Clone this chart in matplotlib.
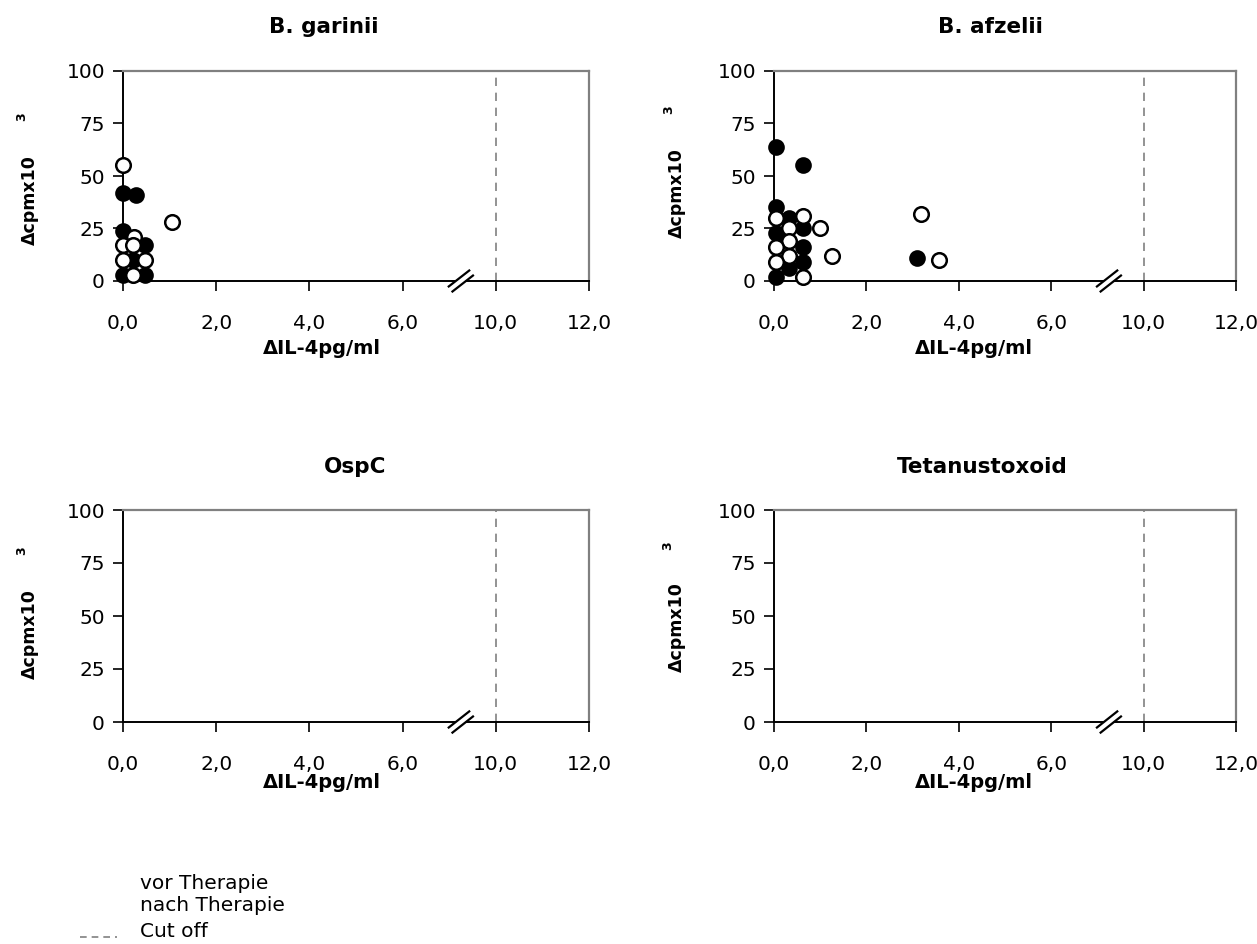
import matplotlib
matplotlib.use("Agg")
import matplotlib.pyplot as plt
from matplotlib.lines import Line2D

plt.rcParams['font.family'] = ['DejaVu Sans']

# ---------------- data ----------------
panel_titles = ["B. garinii", "B. afzelii", "OspC", "Tetanustoxoid"]
x_tick_values = [0, 2, 4, 6, 10, 12]
x_tick_labels = ["0,0", "2,0", "4,0", "6,0", "10,0", "12,0"]
y_ticks = [0, 25, 50, 75, 100]
cutoff = 10.0

# B. garinii
garinii_vor_x = [0.0, 0.27, 0.0, 0.47, 0.22, 0.0, 0.47]
garinii_vor_y = [42, 41, 24, 17, 10, 3, 3]
garinii_nach_x = [0.0, 1.05, 0.24, 0.0, 0.22, 0.0, 0.47, 0.22]
garinii_nach_y = [55, 28, 21, 17, 17, 10, 10, 3]

# B. afzelii
afzelii_vor_x = [0.04, 0.62, 0.04, 0.33, 0.04, 0.62, 0.62, 0.62, 0.33, 0.04, 3.10]
afzelii_vor_y = [64, 55, 35, 30, 23, 25, 16, 9, 6, 2, 11]
afzelii_nach_x = [0.04, 0.33, 0.33, 0.04, 0.33, 0.04, 0.62, 0.62, 0.99, 1.25, 3.19, 3.57]
afzelii_nach_y = [30, 25, 19, 16, 12, 9, 31, 2, 25, 12, 32, 10]

# OspC / Tetanustoxoid: no points
empty = []

panels = [
    (garinii_vor_x, garinii_vor_y, garinii_nach_x, garinii_nach_y),
    (afzelii_vor_x, afzelii_vor_y, afzelii_nach_x, afzelii_nach_y),
    (empty, empty, empty, empty),
    (empty, empty, empty, empty),
]

legend_labels = ["vor Therapie", "nach Therapie", "Cut off"]

# ---------------- layout ----------------
W, H = 1257, 944
fig = plt.figure(figsize=(W / 100, H / 100), dpi=100)

def px_axes(x0, x1, ytop, ybot):
    return [x0 / W, 1 - ybot / H, (x1 - x0) / W, (ybot - ytop) / H]

axes_px = [
    (123, 589, 71, 281),
    (774, 1236, 71, 281),
    (123, 589, 510, 722),
    (774, 1236, 510, 722),
]
title_px = [(324, 27), (990, 27), (355, 467), (982, 467)]
xlabel_px = [(322, 349), (974, 349), (322, 783), (974, 783)]
ylabel_px = [(30, 200), (677, 193), (30, 634), (677, 627)]
sup_px = [(22, 117), (669, 110), (22, 551), (668, 546)]

GRAY = '#808080'
BREAK_GAP = 4  # broken axis: 6 -> 10 region compressed


def xpos(v):
    """Map a real x value onto the broken axis."""
    return v if v <= 6 else v - (BREAK_GAP - 2)


def xpos_list(vals):
    return [xpos(v) for v in vals]


for i, ax_px in enumerate(axes_px):
    ax = fig.add_axes(px_axes(*ax_px))
    vx, vy, nx, ny = panels[i]
    ax.set_xlim(0, xpos(12))
    ax.set_ylim(0, 100)

    # cut-off line
    ax.plot([xpos(cutoff)] * 2, [0, 100], color=GRAY, lw=1.2, ls=(0, (5, 4)), zorder=1)

    ax.plot(xpos_list(vx), vy, 'o', ms=10.5, mfc='black', mec='black', mew=1.5,
            ls='none', clip_on=False, zorder=3)
    ax.plot(xpos_list(nx), ny, 'o', ms=10.5, mfc='white', mec='black', mew=1.8,
            ls='none', clip_on=False, zorder=4)

    # spines
    for s in ['left', 'bottom']:
        ax.spines[s].set_color('black')
        ax.spines[s].set_linewidth(1.4)
    for s in ['top', 'right']:
        ax.spines[s].set_color(GRAY)
        ax.spines[s].set_linewidth(1.6)

    ax.set_xticks([xpos(v) for v in x_tick_values])
    ax.set_xticklabels(x_tick_labels)
    ax.set_yticks(y_ticks)
    ax.set_yticklabels([str(v) for v in y_ticks])
    ax.tick_params(axis='x', direction='out', length=7, width=1.2, pad=17,
                   labelsize=14.5, color='black')
    ax.tick_params(axis='y', direction='out', length=7, width=1.2, pad=6,
                   labelsize=14.5, color='black')
    xt = ax.xaxis.get_major_ticks()
    for t in xt[4:]:
        t.tick1line.set_color(GRAY)

    # axis break mark
    bx = 7.25
    dx, dy = 0.22, 3.8
    off_x, off_y = 0.04, -1.2
    ax.plot([bx - dx, bx + dx], [-dy, dy], color='white', lw=4,
            clip_on=False, zorder=5, solid_capstyle='butt')
    ax.plot([bx - dx - off_x, bx + dx - off_x], [-dy - off_y, dy - off_y],
            color='black', lw=1.6, clip_on=False, zorder=6)
    ax.plot([bx - dx + off_x, bx + dx + off_x], [-dy + off_y, dy + off_y],
            color='black', lw=1.6, clip_on=False, zorder=6)

    # texts
    tx, ty = title_px[i]
    fig.text(tx / W, 1 - ty / H, panel_titles[i], ha='center', va='center',
             fontsize=15.5, fontweight='bold')
    lx, ly = xlabel_px[i]
    fig.text(lx / W, 1 - ly / H, 'ΔIL-4pg/ml', ha='center', va='center',
             fontsize=14, fontweight='bold')
    yx, yy = ylabel_px[i]
    fig.text(yx / W, 1 - yy / H, 'Δcpmx10', ha='center', va='center',
             rotation=90, fontsize=12.5, fontweight='bold')
    sx, sy = sup_px[i]
    fig.text(sx / W, 1 - sy / H, '3', ha='center', va='center',
             rotation=90, fontsize=9, fontweight='bold')

# legend (text only, with dashed line for cut-off)
leg_baselines = [889, 911, 937]
for lab, b in zip(legend_labels, leg_baselines):
    fig.text(140 / W, 1 - b / H, lab, ha='left', va='baseline', fontsize=14.5)
fig.add_artist(Line2D([80 / W, 117 / W], [1 - 937 / H, 1 - 937 / H],
                      transform=fig.transFigure, color=GRAY, lw=1.2,
                      ls=(0, (4, 3))))

fig.savefig('out.png', dpi=100)
